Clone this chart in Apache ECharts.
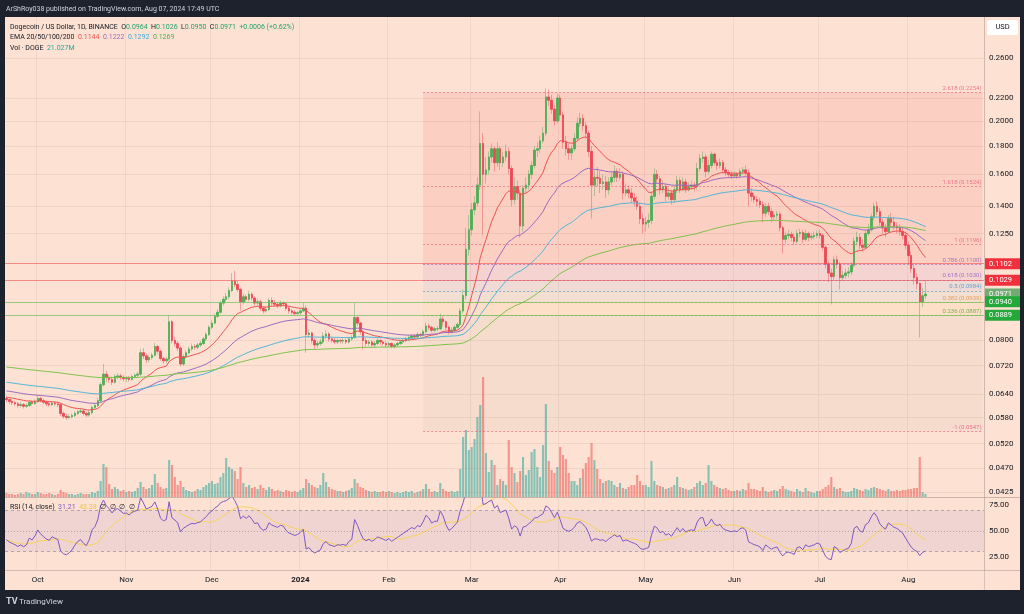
<!DOCTYPE html>
<html><head><meta charset="utf-8">
<script src="https://cdn.jsdelivr.net/npm/echarts@6/dist/echarts.min.js"></script>
<style>html,body{margin:0;padding:0;background:#1e222d;}#c{width:1024px;height:614px;}</style>
</head><body><div id="c"></div><script>
// ---------- DATA ----------
const startDate = '2023-09-20';
const blankDays = 20;
const firstOpen = 0.0628;
const closes = [
0.0625,0.0620,0.0617,0.0614,0.0610,0.0612,0.0608,0.0610,0.0618,0.0615,0.0620,
0.0628,0.0622,0.0618,0.0614,0.0612,0.0616,0.0614,0.0612,0.0590,0.0583,0.0580,0.0582,0.0585,0.0590,0.0594,0.0596,0.0590,0.0586,0.0592,0.0605,0.0610,0.0622,0.0665,0.0695,0.0685,0.0680,0.0672,0.0688,0.0690,0.0686,0.0682,
0.0683,0.0680,0.0688,0.0692,0.0695,0.0760,0.0750,0.0738,0.0745,0.0752,0.0780,0.0765,0.0742,0.0735,0.0740,0.0865,0.0800,0.0790,0.0775,0.0725,0.0748,0.0760,0.0772,0.0780,0.0778,0.0785,0.0790,0.0805,0.0820,0.0845,
0.0860,0.0885,0.0900,0.0935,0.0950,0.0960,0.0985,0.1025,0.1010,0.0990,0.0940,0.0960,0.0950,0.0970,0.0955,0.0935,0.0940,0.0915,0.0905,0.0910,0.0945,0.0935,0.0930,0.0925,0.0935,0.0932,0.0915,0.0905,0.0900,0.0895,0.0898,
0.0905,0.0915,0.0820,0.0825,0.0800,0.0785,0.0790,0.0795,0.0815,0.0822,0.0805,0.0800,0.0795,0.0800,0.0798,0.0800,0.0795,0.0805,0.0810,0.0880,0.0860,0.0830,0.0800,0.0790,0.0795,0.0785,0.0790,0.0800,0.0795,0.0790,0.0785,
0.0790,0.0780,0.0785,0.0790,0.0795,0.0800,0.0805,0.0810,0.0815,0.0812,0.0820,0.0818,0.0830,0.0850,0.0845,0.0835,0.0840,0.0840,0.0875,0.0865,0.0845,0.0830,0.0835,0.0845,0.0855,0.0905,0.0965,0.1170,0.1270,
0.138,0.142,0.153,0.182,0.160,0.163,0.172,0.178,0.168,0.178,0.168,0.172,0.176,0.164,0.144,0.152,0.148,0.129,0.151,0.153,0.160,0.166,0.177,0.178,0.184,0.190,0.221,0.218,0.210,0.200,0.220,
0.205,0.183,0.178,0.175,0.178,0.186,0.198,0.202,0.196,0.190,0.176,0.153,0.158,0.1575,0.154,0.155,0.150,0.155,0.158,0.162,0.158,0.160,0.148,0.150,0.148,0.145,0.143,0.140,0.133,0.130,
0.131,0.132,0.146,0.160,0.157,0.150,0.152,0.146,0.148,0.144,0.150,0.156,0.150,0.155,0.150,0.152,0.153,0.152,0.164,0.171,0.172,0.162,0.166,0.174,0.168,0.166,0.168,0.163,0.161,0.160,0.159,
0.160,0.159,0.162,0.163,0.161,0.148,0.146,0.144,0.143,0.141,0.136,0.140,0.137,0.134,0.135,0.1355,0.128,0.122,0.124,0.1245,0.123,0.121,0.125,0.1255,0.122,0.125,0.123,0.1235,0.124,0.125,
0.124,0.118,0.110,0.106,0.1045,0.112,0.110,0.104,0.105,0.106,0.1065,0.1095,0.121,0.123,0.119,0.118,0.125,0.127,0.134,0.140,0.137,0.131,0.128,0.126,0.133,0.131,0.129,0.128,0.126,0.124,0.119,
0.114,0.108,0.104,0.1015,0.0940,0.0964,0.0971];
const highs = [
0.0635,0.0630,0.0626,0.0622,0.0619,0.0618,0.0616,0.0615,0.0624,0.0623,0.0626,
0.0636,0.0633,0.0627,0.0622,0.0620,0.0621,0.0620,0.0618,0.0615,0.0594,0.0588,0.0587,0.0590,0.0595,0.0599,0.0604,0.0600,0.0594,0.0598,0.0610,0.0616,0.0630,0.0672,0.0725,0.0705,0.0692,0.0688,0.0695,0.0698,0.0696,0.0692,
0.0690,0.0690,0.0694,0.0698,0.0702,0.0772,0.0775,0.0758,0.0752,0.0760,0.0792,0.0786,0.0770,0.0748,0.0748,0.0890,0.0870,0.0812,0.0798,0.0780,0.0755,0.0768,0.0780,0.0790,0.0788,0.0792,0.0798,0.0812,0.0828,0.0852,
0.0870,0.0895,0.0912,0.0945,0.0962,0.0975,0.0998,0.1060,0.1070,0.1025,0.0998,0.0972,0.0968,0.0985,0.0978,0.0962,0.0950,0.0948,0.0922,0.0920,0.0955,0.0958,0.0948,0.0940,0.0945,0.0942,0.0938,0.0922,0.0912,0.0908,0.0905,
0.0915,0.0935,0.0925,0.0838,0.0830,0.0808,0.0798,0.0805,0.0828,0.0835,0.0828,0.0812,0.0808,0.0806,0.0805,0.0806,0.0805,0.0810,0.0818,0.0935,0.0888,0.0865,0.0835,0.0808,0.0802,0.0800,0.0798,0.0808,0.0806,0.0800,0.0798,
0.0796,0.0794,0.0790,0.0796,0.0800,0.0806,0.0812,0.0818,0.0822,0.0822,0.0828,0.0826,0.0838,0.0862,0.0858,0.0850,0.0848,0.0850,0.0895,0.0885,0.0870,0.0852,0.0845,0.0852,0.0862,0.0915,0.0990,0.1280,0.1350,
0.1420,0.1460,0.1580,0.2080,0.1900,0.1720,0.1760,0.1820,0.1800,0.1830,0.1800,0.1760,0.1810,0.1790,0.1660,0.1580,0.1560,0.1500,0.1530,0.1580,0.1630,0.1690,0.1800,0.1830,0.1880,0.1950,0.2290,0.2280,0.2230,0.2140,0.2240,
0.2230,0.2080,0.1880,0.1820,0.1810,0.1900,0.2030,0.2070,0.2060,0.1990,0.1920,0.1800,0.1630,0.1650,0.1620,0.1600,0.1590,0.1580,0.1620,0.1660,0.1640,0.1640,0.1620,0.1540,0.1530,0.1510,0.1480,0.1460,0.1420,0.1360,
0.1340,0.1360,0.1490,0.1640,0.1630,0.1590,0.1560,0.1540,0.1510,0.1500,0.1530,0.1590,0.1580,0.1580,0.1570,0.1550,0.1560,0.1550,0.1680,0.1740,0.1760,0.1740,0.1700,0.1760,0.1750,0.1700,0.1710,0.1700,0.1650,0.1630,0.1620,
0.1620,0.1615,0.1640,0.1650,0.1660,0.1630,0.1510,0.1480,0.1460,0.1450,0.1430,0.1420,0.1420,0.1390,0.1370,0.1375,0.1370,0.1290,0.1260,0.1270,0.1260,0.1250,0.1270,0.1275,0.1270,0.1270,0.1260,0.1250,0.1260,0.1265,
0.1270,0.1250,0.1190,0.1115,0.1080,0.1135,0.1140,0.1110,0.1070,0.1080,0.1085,0.1110,0.1230,0.1260,0.1250,0.1220,0.1270,0.1300,0.1360,0.1420,0.1430,0.1390,0.1330,0.1300,0.1350,0.1360,0.1340,0.1310,0.1300,0.1280,0.1260,
0.1210,0.1160,0.1100,0.1060,0.1020,0.0995,0.1026];
const lows = [
0.0618,0.0613,0.0611,0.0608,0.0604,0.0605,0.0602,0.0603,0.0606,0.0610,0.0611,
0.0616,0.0617,0.0613,0.0608,0.0606,0.0608,0.0609,0.0606,0.0584,0.0577,0.0574,0.0576,0.0578,0.0581,0.0586,0.0590,0.0585,0.0581,0.0582,0.0588,0.0601,0.0606,0.0618,0.0660,0.0672,0.0670,0.0664,0.0668,0.0680,0.0678,0.0674,
0.0672,0.0674,0.0676,0.0683,0.0686,0.0690,0.0740,0.0728,0.0730,0.0738,0.0748,0.0755,0.0735,0.0725,0.0728,0.0735,0.0790,0.0780,0.0765,0.0718,0.0720,0.0742,0.0755,0.0765,0.0770,0.0772,0.0778,0.0785,0.0798,0.0815,
0.0838,0.0855,0.0878,0.0895,0.0925,0.0940,0.0950,0.0978,0.1000,0.0980,0.0905,0.0930,0.0940,0.0942,0.0945,0.0925,0.0925,0.0905,0.0895,0.0898,0.0905,0.0925,0.0920,0.0915,0.0918,0.0922,0.0905,0.0895,0.0890,0.0886,0.0888,
0.0890,0.0900,0.0760,0.0808,0.0790,0.0770,0.0775,0.0782,0.0788,0.0805,0.0795,0.0792,0.0788,0.0788,0.0790,0.0790,0.0788,0.0790,0.0798,0.0805,0.0850,0.0820,0.0770,0.0780,0.0782,0.0776,0.0778,0.0784,0.0786,0.0782,0.0776,
0.0778,0.0774,0.0774,0.0780,0.0784,0.0788,0.0794,0.0798,0.0804,0.0805,0.0806,0.0810,0.0812,0.0825,0.0835,0.0828,0.0828,0.0832,0.0835,0.0850,0.0835,0.0820,0.0822,0.0828,0.0838,0.0850,0.0895,0.0950,0.1140,
0.1240,0.1350,0.1400,0.1500,0.1240,0.1540,0.1600,0.1680,0.1620,0.1650,0.1630,0.1650,0.1690,0.1600,0.1400,0.1410,0.1440,0.1230,0.1260,0.1480,0.1500,0.1570,0.1640,0.1720,0.1750,0.1820,0.1880,0.2130,0.2060,0.1960,0.1980,
0.2000,0.1780,0.1730,0.1700,0.1700,0.1760,0.1840,0.1950,0.1920,0.1860,0.1720,0.1330,0.1460,0.1520,0.1480,0.1500,0.1450,0.1470,0.1530,0.1550,0.1550,0.1560,0.1440,0.1460,0.1450,0.1420,0.1400,0.1380,0.1300,0.1250,
0.1260,0.1280,0.1300,0.1440,0.1540,0.1470,0.1480,0.1430,0.1440,0.1410,0.1420,0.1480,0.1480,0.1490,0.1480,0.1490,0.1500,0.1490,0.1500,0.1620,0.1680,0.1580,0.1600,0.1640,0.1660,0.1630,0.1640,0.1610,0.1590,0.1580,0.1570,
0.1580,0.1570,0.1575,0.1600,0.1590,0.1400,0.1430,0.1420,0.1400,0.1390,0.1310,0.1340,0.1350,0.1310,0.1320,0.1330,0.1260,0.1150,0.1200,0.1220,0.1210,0.1190,0.1200,0.1230,0.1200,0.1210,0.1210,0.1215,0.1220,0.1225,
0.1225,0.1165,0.1080,0.1020,0.0930,0.1030,0.1080,0.0990,0.1025,0.1035,0.1040,0.1050,0.1085,0.1190,0.1170,0.1160,0.1170,0.1240,0.1260,0.1320,0.1350,0.1290,0.1250,0.1230,0.1250,0.1290,0.1270,0.1250,0.1240,0.1220,0.1170,
0.1100,0.1060,0.1010,0.0990,0.0810,0.0920,0.0950];
const volumes = [ // millions of DOGE
28,21,21,14,21,28,21,35,28,21,21,
35,28,21,21,28,21,14,21,49,35,28,21,21,14,21,28,21,21,21,35,28,42,112,231,210,91,56,70,56,42,49,
35,42,35,42,63,105,70,56,63,84,161,98,70,56,63,259,224,140,84,112,70,49,42,35,42,56,49,70,84,98,
112,91,98,140,168,273,210,196,182,126,210,98,70,84,63,70,56,84,63,49,70,56,42,49,42,35,49,42,35,42,35,
49,63,126,98,84,70,63,84,168,105,70,56,49,42,42,35,42,49,63,126,98,70,63,49,42,35,42,35,35,42,35,
42,35,28,35,28,35,42,35,42,28,35,42,56,91,56,35,42,35,98,56,42,35,42,35,42,196,420,469,329,
350,406,560,644,840,308,175,259,224,84,126,112,84,399,210,168,105,182,280,154,189,315,336,210,140,364,651,252,189,168,210,
350,294,266,168,112,112,84,133,196,238,280,378,259,196,126,98,112,119,112,84,70,98,63,56,70,84,84,154,112,84,
84,70,252,112,84,77,70,56,63,70,84,140,70,63,56,49,56,70,98,112,84,98,224,112,84,70,63,56,63,49,42,
42,49,42,56,49,98,56,56,49,42,70,42,35,42,49,42,56,77,56,49,42,35,56,42,35,63,42,35,28,42,
42,56,70,84,140,70,56,63,42,35,35,42,63,56,49,42,56,49,63,70,63,56,49,42,56,42,42,49,42,49,49,
56,56,63,63,280,35,21];
const priceTicks = [0.26,0.22,0.20,0.18,0.16,0.14,0.125,0.08,0.072,0.064,0.058,0.052,0.047,0.0425];
const fibLevels = ['2.618','1.618','1','0.786','0.618','0.5','0.382','0.236','-1'];
const fibPrices = [0.2254,0.1524,0.1196,0.1100,0.1030,0.0984,0.0939,0.0887,0.0547];
const fibStart = '2024-02-13';
const redLines = [0.1102,0.1029];
const greenLines = [0.0940,0.0889];
const lastPrice = 0.0971;
const rsiTicks = [75,50,25];
const rsiBands = [70,50,30];
const emaPeriods = [20,50,100,200];
const emaSeeds = [0.0632,0.0649,0.0673,0.0717];
const rsiSeed = {gain:0.00030, loss:0.00040};

// ---------- DERIVED ----------
const N = closes.length;
const opens = [firstOpen].concat(closes.slice(0, N - 1));
const categories = [];
const t0 = Date.parse(startDate + 'T00:00:00Z');
for (let i = 0; i < N + blankDays; i++) categories.push(new Date(t0 + i * 86400000).toISOString().slice(0, 10));
const lastCat = categories[categories.length - 1];
const wickData = closes.map((c, i) => [opens[i], c, lows[i], highs[i]]);
const bodyData = closes.map((c, i) => [opens[i], c, Math.min(opens[i], c), Math.max(opens[i], c)]);
const volData = volumes.map((v, i) => ({value: v, itemStyle: {color: closes[i] >= opens[i] ? 'rgba(38,166,154,0.55)' : 'rgba(239,83,80,0.55)'}}));
function ema(period, seed) { const k = 2 / (period + 1); let e = seed; return closes.map(c => +(e = c * k + e * (1 - k)).toFixed(5)); }
const emas = emaPeriods.map((p, j) => ema(p, emaSeeds[j]));
let ag = rsiSeed.gain, al = rsiSeed.loss, prev = firstOpen;
const rsi = closes.map(c => { const ch = c - prev; prev = c; ag = (ag * 13 + Math.max(ch, 0)) / 14; al = (al * 13 + Math.max(-ch, 0)) / 14; return +(100 - 100 / (1 + ag / al)).toFixed(2); });
const rsiMa = rsi.map((v, i) => { const s = rsi.slice(Math.max(0, i - 13), i + 1); return +(s.reduce((a, b) => a + b, 0) / s.length).toFixed(2); });

const FONT = 'Roboto, "Noto Sans", sans-serif';
const CLEAR = 'rgba(0,0,0,0)';
const monthNames = ['Jan','Feb','Mar','Apr','May','Jun','Jul','Aug','Sep','Oct','Nov','Dec'];
const isMonthStart = (i, v) => typeof v === 'string' && v.slice(8) === '01';
const nulls = categories.map(() => null);

const fibColors = ['#e55d78','#e55d78','#e55d78','#9b59b6','#8e5cc8','#3f95cf','#e0903a','#5aa83c','#e55d78'];
const zoneColors = ['rgba(242,54,69,0.11)','rgba(242,54,69,0.11)','rgba(242,54,69,0.11)','rgba(156,39,176,0.08)','rgba(41,98,255,0.06)','rgba(0,150,180,0.04)','rgba(255,170,0,0.06)','rgba(120,110,100,0.05)'];

const tickLines = priceTicks.map(v => ({yAxis: v, label: {formatter: v.toFixed(4)}}));
const tagLine = (v, bg, fg, line) => ({yAxis: v, lineStyle: {color: line || CLEAR, width: 1, type: 'solid'},
  label: {formatter: v.toFixed(4), backgroundColor: bg, color: fg, padding: [2, 3, 1, 4], lineHeight: 8, width: 28, distance: 1}});

const option = {
  backgroundColor: '#1e222d',
  animation: false,
  textStyle: {fontFamily: FONT},
  grid: [
    {left: 5, right: 40, top: 17, bottom: 117},
    {left: 5, right: 40, top: 257, bottom: 117},
    {left: 5, right: 40, top: 498, bottom: 44}
  ],
  xAxis: [0, 1, 2].map(g => ({
    type: 'category', gridIndex: g, data: categories, boundaryGap: true,
    axisLine: {show: false}, axisTick: {show: false},
    axisLabel: g === 2 ? {show: true, interval: isMonthStart, margin: 6, color: '#131722', fontSize: 8, fontFamily: FONT,
      formatter: v => { const m = +v.slice(5, 7); return m === 1 ? '{y|' + v.slice(0, 4) + '}' : monthNames[m - 1]; },
      rich: {y: {fontWeight: 'bold', fontSize: 8, color: '#131722', fontFamily: FONT}}} : {show: false},
    splitLine: {show: g !== 1, interval: isMonthStart, lineStyle: {color: 'rgba(140,110,100,0.10)', width: 1}}
  })),
  yAxis: [
    {type: 'log', gridIndex: 0, position: 'right', min: 0.041626, max: 0.30853, axisLine: {show: false}, axisTick: {show: false}, axisLabel: {show: false}, splitLine: {show: false}},
    {type: 'value', gridIndex: 1, min: 0, max: 1680, show: false, splitLine: {show: false}},
    {type: 'value', gridIndex: 2, position: 'right', min: 12, max: 82, axisLine: {show: false}, axisTick: {show: false}, axisLabel: {show: false}, splitLine: {show: false}}
  ],
  series: [
    { // fib zones, grid lines, axis labels
      type: 'line', xAxisIndex: 0, yAxisIndex: 0, data: nulls, symbol: 'none', silent: true, z: 1,
      markArea: {silent: true, precision: 8, data: zoneColors.map((col, i) => [
        {xAxis: fibStart, yAxis: fibPrices[i], itemStyle: {color: col}}, {xAxis: lastCat, yAxis: fibPrices[i + 1]}])},
      markLine: {silent: true, precision: 8, symbol: ['none', 'none'], animation: false,
        lineStyle: {color: 'rgba(150,120,110,0.12)', type: 'solid', width: 1},
        label: {position: 'end', distance: 5, color: '#131722', fontSize: 8, fontFamily: FONT},
        data: tickLines}
    },
    {
      type: 'candlestick', name: 'wick', xAxisIndex: 0, yAxisIndex: 0, data: wickData, barWidth: '70%', silent: true,
      itemStyle: {color: 'rgba(90,165,95,0.45)', color0: 'rgba(230,80,90,0.45)', borderColor: 'rgba(90,165,95,0.45)', borderColor0: 'rgba(230,80,90,0.45)', borderWidth: 1}
    },
    {
      type: 'candlestick', name: 'body', xAxisIndex: 0, yAxisIndex: 0, data: bodyData, barWidth: '70%', silent: true,
      itemStyle: {color: '#4caf50', color0: '#ef4554', borderColor: '#4caf50', borderColor0: '#ef4554', borderWidth: 0.6}
    },
    ...emas.map((d, j) => ({
      type: 'line', name: 'EMA' + emaPeriods[j], xAxisIndex: 0, yAxisIndex: 0, data: d, symbol: 'none', silent: true, z: 3,
      lineStyle: {width: 1, color: ['#ef5350', '#9c6ac2', '#52b5d8', '#7cc24a'][j]}
    })),
    { // fib lines + price tags
      type: 'line', xAxisIndex: 0, yAxisIndex: 0, data: nulls, symbol: 'none', silent: true, z: 4,
      markLine: {silent: true, precision: 8, symbol: ['none', 'none'], animation: false,
        data: fibLevels.map((lv, i) => [
          {coord: [fibStart, fibPrices[i]], lineStyle: {color: fibColors[i], type: [2, 2], width: 0.8, opacity: 0.8},
            label: {show: true, position: 'insideEndTop', distance: 1, formatter: lv + ' (' + fibPrices[i].toFixed(4) + ')', color: fibColors[i], fontSize: 6, fontFamily: FONT}},
          {coord: [lastCat, fibPrices[i]]}
        ]).concat([
          tagLine(redLines[0], '#f0303c', '#ffffff', 'rgba(240,80,80,0.6)'),
          tagLine(redLines[1], '#f0303c', '#ffffff', 'rgba(240,80,80,0.6)'),
          tagLine(lastPrice, 'rgba(100,165,105,0.9)', '#ffffff', null),
          tagLine(greenLines[0], '#25a83a', '#ffffff', 'rgba(110,190,90,0.7)'),
          tagLine(greenLines[1], '#25a83a', '#ffffff', 'rgba(110,190,90,0.7)')
        ]),
        label: {position: 'end', fontSize: 7.5, fontFamily: FONT}}
    },
    {
      type: 'bar', name: 'Vol', xAxisIndex: 1, yAxisIndex: 1, data: volData, barWidth: '75%', silent: true
    },
    {
      type: 'line', name: 'RSI', xAxisIndex: 2, yAxisIndex: 2, data: rsi, symbol: 'none', silent: true, z: 3,
      lineStyle: {width: 1, color: '#7e57c2'},
      markArea: {silent: true, precision: 4, data: [[{yAxis: rsiBands[0], itemStyle: {color: 'rgba(126,87,194,0.10)'}}, {yAxis: rsiBands[2]}]]},
      markLine: {silent: true, precision: 4, symbol: ['none', 'none'], animation: false,
        label: {position: 'end', distance: 5, color: '#131722', fontSize: 8, fontFamily: FONT},
        data: rsiBands.map((v, i) => ({yAxis: v, label: {show: false}, lineStyle: {color: 'rgba(120,123,134,0.55)', type: i === 1 ? [1, 2] : [3, 3], width: 1}}))
          .concat(rsiTicks.map(v => ({yAxis: v, lineStyle: {color: CLEAR}, label: {show: true, formatter: v.toFixed(2)}})))}
    },
    {
      type: 'line', name: 'RSI MA', xAxisIndex: 2, yAxisIndex: 2, data: rsiMa, symbol: 'none', silent: true, z: 2,
      lineStyle: {width: 1, color: '#f7d35a'}
    }
  ],
  graphic: [
    {type: 'rect', z: -100, silent: true, shape: {x: 5, y: 17, width: 1015, height: 573}, style: {fill: '#fde2d3'}},
    {type: 'line', z: 50, silent: true, shape: {x1: 5, y1: 497.5, x2: 1020, y2: 497.5}, style: {stroke: 'rgba(110,95,90,0.35)', lineWidth: 1}},
    {type: 'line', z: 50, silent: true, shape: {x1: 5, y1: 570.5, x2: 1020, y2: 570.5}, style: {stroke: 'rgba(110,95,90,0.30)', lineWidth: 1}},
    {type: 'line', z: 50, silent: true, shape: {x1: 984.5, y1: 17, x2: 984.5, y2: 590}, style: {stroke: 'rgba(110,95,90,0.25)', lineWidth: 1}},
    {type: 'rect', z: 60, silent: true, shape: {x: 987, y: 20, width: 31, height: 15, r: 2}, style: {fill: '#ffffff'}},
    {type: 'text', z: 61, silent: true, x: 1002.5, y: 27.5, style: {text: 'USD', fill: '#131722', font: '7.5px ' + FONT, align: 'center', verticalAlign: 'middle'}},
    {type: 'text', z: 60, silent: true, x: 6, y: 9, style: {text: 'ArShRoy038 published on TradingView.com, Aug 07, 2024 17:49 UTC', fill: '#d1d4dc', font: '7px ' + FONT, verticalAlign: 'middle'}},
    {type: 'text', z: 60, silent: true, x: 10, y: 27, style: {verticalAlign: 'middle', font: '7px ' + FONT,
      text: '{k|Dogecoin / US Dollar, 1D, BINANCE}  {k|O}{v|0.0964}  {k|H}{v|0.1026}  {k|L}{v|0.0950}  {k|C}{v|0.0971}  {v|+0.0006 (+0.62%)}',
      rich: {k: {fill: '#131722', font: '7px ' + FONT}, v: {fill: '#22a06b', font: '7px ' + FONT}}}},
    {type: 'text', z: 60, silent: true, x: 10, y: 37.5, style: {verticalAlign: 'middle', font: '7px ' + FONT,
      text: '{k|EMA 20/50/100/200}  {a|0.1144}  {b|0.1222}  {c|0.1292}  {d|0.1269}',
      rich: {k: {fill: '#131722', font: '7px ' + FONT}, a: {fill: '#ef5350', font: '7px ' + FONT}, b: {fill: '#9c6ac2', font: '7px ' + FONT}, c: {fill: '#3fa9d6', font: '7px ' + FONT}, d: {fill: '#4caf50', font: '7px ' + FONT}}}},
    {type: 'text', z: 60, silent: true, x: 10, y: 48, style: {verticalAlign: 'middle', font: '7px ' + FONT,
      text: '{k|Vol · DOGE}  {v|21.027M}',
      rich: {k: {fill: '#131722', font: '7px ' + FONT}, v: {fill: '#26a69a', font: '7px ' + FONT}}}},
    {type: 'text', z: 60, silent: true, x: 10, y: 507, style: {verticalAlign: 'middle', font: '7px ' + FONT,
      text: '{k|RSI (14, close)}  {a|31.21}  {b|43.38}  {k|∅  ∅  ∅  ∅}',
      rich: {k: {fill: '#131722', font: '7px ' + FONT}, a: {fill: '#7e57c2', font: '7px ' + FONT}, b: {fill: '#e8c547', font: '7px ' + FONT}}}},
    {type: 'text', z: 60, silent: true, x: 6, y: 602, style: {verticalAlign: 'middle', font: 'bold 9px ' + FONT, text: 'TV', fill: '#d1d4dc'}},
    {type: 'text', z: 60, silent: true, x: 19, y: 602, style: {verticalAlign: 'middle', font: '8px ' + FONT, text: 'TradingView', fill: '#d1d4dc'}}
  ]
};
const chart = echarts.init(document.getElementById('c'), null, {renderer: 'canvas'});
chart.setOption(option);
</script></body></html>
